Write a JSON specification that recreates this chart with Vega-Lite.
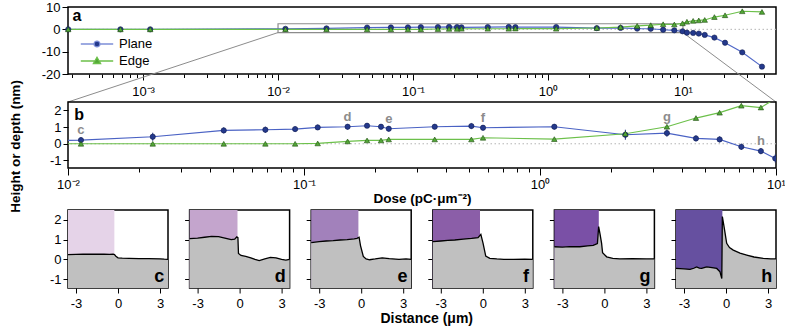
{
  "$schema": "https://vega.github.io/schema/vega-lite/v6.json",
  "padding": {"left": 7, "top": 0, "right": 10, "bottom": 0},
  "config": {
    "font": "Liberation Sans",
    "view": {"stroke": "#000000", "strokeWidth": 1.5},
    "axis": {"domain": false, "grid": false, "tickColor": "#000000", "tickWidth": 1, "labelFontSize": 13, "labelColor": "#000000", "labelFont": "Liberation Sans", "titleFont": "Liberation Sans", "titleFontSize": 13.5, "titleFontWeight": "bold", "titleColor": "#000000", "labelFlush": false, "labelOverlap": false, "labelBound": false}
  },
  "datasets": {
    "dose": [
      {"dose": 0.000279, "plane": 0, "edge": 0, "lo": 0, "hi": 0},
      {"dose": 0.00068, "plane": 0, "edge": 0, "lo": 0, "hi": 0},
      {"dose": 0.00113, "plane": 0, "edge": 0, "lo": 0, "hi": 0},
      {"dose": 0.01135, "plane": 0.22, "edge": 0, "lo": 0.04, "hi": 0.4},
      {"dose": 0.02286, "plane": 0.42, "edge": 0, "lo": 0.18, "hi": 0.66},
      {"dose": 0.0457, "plane": 0.8, "edge": 0, "lo": 0.62, "hi": 0.98},
      {"dose": 0.0686, "plane": 0.84, "edge": 0, "lo": 0.66, "hi": 1.02},
      {"dose": 0.0917, "plane": 0.88, "edge": 0, "lo": 0.72, "hi": 1.04},
      {"dose": 0.1143, "plane": 0.98, "edge": 0.02, "lo": 0.82, "hi": 1.14},
      {"dose": 0.153, "plane": 1.02, "edge": 0.14, "lo": 0.86, "hi": 1.18},
      {"dose": 0.185, "plane": 1.08, "edge": 0.2, "lo": 0.94, "hi": 1.22},
      {"dose": 0.212, "plane": 1.02, "edge": 0.2, "lo": 0.86, "hi": 1.18},
      {"dose": 0.2286, "plane": 0.9, "edge": 0.26, "lo": 0.74, "hi": 1.06},
      {"dose": 0.358, "plane": 1.02, "edge": 0.26, "lo": 0.88, "hi": 1.16},
      {"dose": 0.512, "plane": 1.06, "edge": 0.26, "lo": 0.9, "hi": 1.22},
      {"dose": 0.5735, "plane": 0.96, "edge": 0.36, "lo": 0.8, "hi": 1.12},
      {"dose": 1.15, "plane": 1.02, "edge": 0.28, "lo": 0.86, "hi": 1.18},
      {"dose": 2.3, "plane": 0.54, "edge": 0.6, "lo": 0.24, "hi": 0.84},
      {"dose": 3.45, "plane": 0.64, "edge": 1.02, "lo": 0.42, "hi": 0.86},
      {"dose": 4.58, "plane": 0.32, "edge": 1.54, "lo": 0.14, "hi": 0.5},
      {"dose": 5.77, "plane": 0.26, "edge": 1.86, "lo": 0.08, "hi": 0.44},
      {"dose": 7.13, "plane": -0.18, "edge": 2.28, "lo": -0.36, "hi": 0.0},
      {"dose": 8.63, "plane": -0.44, "edge": 2.17, "lo": -0.62, "hi": -0.26},
      {"dose": 9.93, "plane": -0.88, "edge": 2.7, "lo": -1.12, "hi": -0.64},
      {"dose": 10.7, "plane": -1.5, "edge": 3.4, "lo": -1.8, "hi": -1.2},
      {"dose": 11.9, "plane": -1.6, "edge": 3.8, "lo": -1.9, "hi": -1.3},
      {"dose": 13.1, "plane": -1.9, "edge": 4.0, "lo": -2.2, "hi": -1.6},
      {"dose": 14.5, "plane": -2.5, "edge": 4.2, "lo": -2.8, "hi": -2.2},
      {"dose": 17.1, "plane": -3.7, "edge": 5.5, "lo": -4.0, "hi": -3.4},
      {"dose": 20.5, "plane": -6.0, "edge": 6.3, "lo": -6.3, "hi": -5.7},
      {"dose": 27.5, "plane": -10.3, "edge": 8.1, "lo": -10.6, "hi": -10.0},
      {"dose": 38.5, "plane": -16.7, "edge": 7.8, "lo": -17.0, "hi": -16.4}
    ],
    "labels": [
      {"label": "c", "dose": 0.01135, "v": 0.22},
      {"label": "d", "dose": 0.153, "v": 1.02},
      {"label": "e", "dose": 0.2286, "v": 0.9},
      {"label": "f", "dose": 0.5735, "v": 0.96},
      {"label": "g", "dose": 3.45, "v": 1.02},
      {"label": "h", "dose": 8.63, "v": -0.44}
    ],
    "edges": [
      {"panel": "c", "edge": -0.26},
      {"panel": "d", "edge": -0.15},
      {"panel": "e", "edge": -0.2},
      {"panel": "f", "edge": -0.2},
      {"panel": "g", "edge": -0.4},
      {"panel": "h", "edge": -0.26}
    ],
    "profiles": [
      {"panel": "c", "x": -3.57, "v": 0.24}, {"panel": "c", "x": -3.0, "v": 0.25}, {"panel": "c", "x": -2.5, "v": 0.26}, {"panel": "c", "x": -2.0, "v": 0.27}, {"panel": "c", "x": -1.5, "v": 0.26}, {"panel": "c", "x": -1.0, "v": 0.26}, {"panel": "c", "x": -0.6, "v": 0.25}, {"panel": "c", "x": -0.35, "v": 0.26}, {"panel": "c", "x": -0.25, "v": 0.24}, {"panel": "c", "x": -0.15, "v": 0.16}, {"panel": "c", "x": 0.0, "v": 0.08}, {"panel": "c", "x": 0.3, "v": 0.06}, {"panel": "c", "x": 0.8, "v": 0.05}, {"panel": "c", "x": 1.5, "v": 0.04}, {"panel": "c", "x": 2.2, "v": 0.04}, {"panel": "c", "x": 3.0, "v": 0.03}, {"panel": "c", "x": 3.3, "v": 0.01}, {"panel": "c", "x": 3.57, "v": 0.0},
      {"panel": "d", "x": -3.57, "v": 1.05}, {"panel": "d", "x": -3.0, "v": 1.08}, {"panel": "d", "x": -2.5, "v": 1.12}, {"panel": "d", "x": -2.0, "v": 1.16}, {"panel": "d", "x": -1.5, "v": 1.15}, {"panel": "d", "x": -1.2, "v": 1.1}, {"panel": "d", "x": -0.9, "v": 1.05}, {"panel": "d", "x": -0.6, "v": 1.0}, {"panel": "d", "x": -0.35, "v": 1.02}, {"panel": "d", "x": -0.2, "v": 1.14}, {"panel": "d", "x": -0.12, "v": 1.1}, {"panel": "d", "x": -0.08, "v": 0.3}, {"panel": "d", "x": 0.1, "v": 0.2}, {"panel": "d", "x": 0.44, "v": 0.15}, {"panel": "d", "x": 0.8, "v": 0.08}, {"panel": "d", "x": 1.1, "v": 0.0}, {"panel": "d", "x": 1.4, "v": -0.06}, {"panel": "d", "x": 1.8, "v": 0.02}, {"panel": "d", "x": 2.2, "v": 0.1}, {"panel": "d", "x": 2.6, "v": 0.08}, {"panel": "d", "x": 3.0, "v": 0.0}, {"panel": "d", "x": 3.3, "v": -0.04}, {"panel": "d", "x": 3.57, "v": 0.0},
      {"panel": "e", "x": -3.57, "v": 0.85}, {"panel": "e", "x": -3.0, "v": 0.9}, {"panel": "e", "x": -2.5, "v": 0.93}, {"panel": "e", "x": -2.0, "v": 0.95}, {"panel": "e", "x": -1.5, "v": 0.98}, {"panel": "e", "x": -1.0, "v": 1.0}, {"panel": "e", "x": -0.5, "v": 1.04}, {"panel": "e", "x": -0.3, "v": 1.06}, {"panel": "e", "x": -0.15, "v": 1.12}, {"panel": "e", "x": -0.05, "v": 0.7}, {"panel": "e", "x": 0.15, "v": 0.15}, {"panel": "e", "x": 0.35, "v": 0.02}, {"panel": "e", "x": 0.6, "v": -0.02}, {"panel": "e", "x": 1.0, "v": 0.02}, {"panel": "e", "x": 1.5, "v": 0.08}, {"panel": "e", "x": 2.0, "v": 0.04}, {"panel": "e", "x": 2.7, "v": 0.0}, {"panel": "e", "x": 3.2, "v": 0.02}, {"panel": "e", "x": 3.57, "v": 0.0},
      {"panel": "f", "x": -3.57, "v": 0.9}, {"panel": "f", "x": -3.0, "v": 0.93}, {"panel": "f", "x": -2.5, "v": 0.96}, {"panel": "f", "x": -2.0, "v": 0.98}, {"panel": "f", "x": -1.4, "v": 1.02}, {"panel": "f", "x": -0.8, "v": 1.06}, {"panel": "f", "x": -0.34, "v": 1.1}, {"panel": "f", "x": -0.14, "v": 1.27}, {"panel": "f", "x": 0.02, "v": 0.81}, {"panel": "f", "x": 0.21, "v": 0.17}, {"panel": "f", "x": 0.5, "v": 0.05}, {"panel": "f", "x": 1.0, "v": 0.02}, {"panel": "f", "x": 1.5, "v": 0.0}, {"panel": "f", "x": 2.2, "v": 0.0}, {"panel": "f", "x": 3.0, "v": 0.01}, {"panel": "f", "x": 3.57, "v": 0.0},
      {"panel": "g", "x": -3.57, "v": 0.64}, {"panel": "g", "x": -3.0, "v": 0.62}, {"panel": "g", "x": -2.5, "v": 0.65}, {"panel": "g", "x": -1.75, "v": 0.64}, {"panel": "g", "x": -1.2, "v": 0.68}, {"panel": "g", "x": -0.8, "v": 0.71}, {"panel": "g", "x": -0.5, "v": 0.8}, {"panel": "g", "x": -0.41, "v": 1.66}, {"panel": "g", "x": -0.32, "v": 1.32}, {"panel": "g", "x": -0.2, "v": 0.81}, {"panel": "g", "x": -0.13, "v": 0.34}, {"panel": "g", "x": 0.16, "v": 0.13}, {"panel": "g", "x": 0.6, "v": 0.05}, {"panel": "g", "x": 1.1, "v": 0.02}, {"panel": "g", "x": 2.0, "v": 0.03}, {"panel": "g", "x": 3.0, "v": 0.02}, {"panel": "g", "x": 3.57, "v": 0.03},
      {"panel": "h", "x": -3.57, "v": -0.46}, {"panel": "h", "x": -3.0, "v": -0.48}, {"panel": "h", "x": -2.57, "v": -0.51}, {"panel": "h", "x": -2.3, "v": -0.45}, {"panel": "h", "x": -2.1, "v": -0.38}, {"panel": "h", "x": -1.9, "v": -0.44}, {"panel": "h", "x": -1.74, "v": -0.46}, {"panel": "h", "x": -1.5, "v": -0.4}, {"panel": "h", "x": -1.38, "v": -0.38}, {"panel": "h", "x": -1.0, "v": -0.42}, {"panel": "h", "x": -0.66, "v": -0.46}, {"panel": "h", "x": -0.43, "v": -0.63}, {"panel": "h", "x": -0.3, "v": -0.97}, {"panel": "h", "x": -0.26, "v": 2.17}, {"panel": "h", "x": -0.14, "v": 1.66}, {"panel": "h", "x": 0.05, "v": 0.81}, {"panel": "h", "x": 0.25, "v": 0.6}, {"panel": "h", "x": 0.52, "v": 0.47}, {"panel": "h", "x": 1.0, "v": 0.32}, {"panel": "h", "x": 1.48, "v": 0.22}, {"panel": "h", "x": 2.0, "v": 0.12}, {"panel": "h", "x": 2.66, "v": 0.05}, {"panel": "h", "x": 3.2, "v": 0.03}, {"panel": "h", "x": 3.57, "v": 0.02}
    ]
  },
  "spacing": 13,
  "bounds": "flush",
  "vconcat": [
    {
      "width": 708,
      "height": 67,
      "resolve": {"axis": {"x": "independent", "y": "independent"}},
      "layer": [
        {
          "data": {"values": [{"v": 0}]},
          "mark": {"type": "rule", "color": "#b4b4b4", "strokeDash": [1.5, 2.5], "strokeWidth": 1},
          "encoding": {"y": {"field": "v", "type": "quantitative", "scale": {"domain": [-20, 10], "nice": false, "zero": false}, "axis": {"values": [-20, -10, 0, 10], "tickSize": 6, "labelPadding": 2, "title": null, "labelExpr": "'' + datum.value"}}}
        },
        {
          "data": {"values": [{"x1": 0.01, "x2": 10, "y1": -1.45, "y2": 2.5}]},
          "mark": {"type": "rect", "fillOpacity": 0, "stroke": "#8c8c8c", "strokeWidth": 1.2},
          "encoding": {
            "x": {"field": "x1", "type": "quantitative", "scale": {"type": "log", "domain": [0.000278, 48.9], "nice": false}, "axis": null},
            "x2": {"field": "x2"},
            "y": {"field": "y1", "type": "quantitative", "scale": {"domain": [-20, 10], "nice": false, "zero": false}, "axis": null},
            "y2": {"field": "y2"}
          }
        },
        {
          "data": {"values": [{"xa": 0.01, "ya": -1.45, "xb": 0.000278, "yb": -32.54}, {"xa": 10, "ya": -1.45, "xb": 48.9, "yb": -32.54}]},
          "mark": {"type": "rule", "color": "#8c8c8c", "strokeWidth": 1, "clip": false},
          "encoding": {
            "x": {"field": "xa", "type": "quantitative", "scale": {"type": "log", "domain": [0.000278, 48.9], "nice": false}, "axis": null},
            "x2": {"field": "xb"},
            "y": {"field": "ya", "type": "quantitative", "scale": {"domain": [-20, 10], "nice": false, "zero": false}, "axis": null},
            "y2": {"field": "yb"}
          }
        },
        {
          "data": {"name": "dose"},
          "mark": {"type": "line", "color": "#5068c8", "strokeWidth": 1.2},
          "encoding": {
            "x": {"field": "dose", "type": "quantitative", "scale": {"type": "log", "domain": [0.000278, 48.9], "nice": false}, "axis": {"orient": "bottom", "values": [0.001, 0.01, 0.1, 1, 10], "tickSize": 6, "labelPadding": 5, "title": null, "labelExpr": "'10' + replace(replace(replace(replace(replace(round(log(datum.value)/LN10) + '', '-', '⁻'), '0', '⁰'), '1', '¹'), '2', '²'), '3', '³')"}},
            "y": {"field": "plane", "type": "quantitative", "scale": {"domain": [-20, 10], "nice": false, "zero": false}, "axis": null}
          }
        },
        {
          "data": {"name": "dose"},
          "mark": {"type": "line", "color": "#6cc04a", "strokeWidth": 1.2},
          "encoding": {
            "x": {"field": "dose", "type": "quantitative", "scale": {"type": "log", "domain": [0.000278, 48.9], "nice": false}, "axis": {"orient": "bottom", "values": [0.0003, 0.0004, 0.0005, 0.0006, 0.0007, 0.0008, 0.0009, 0.002, 0.003, 0.004, 0.005, 0.006, 0.007, 0.008, 0.009, 0.02, 0.03, 0.04, 0.05, 0.06, 0.07, 0.08, 0.09, 0.2, 0.3, 0.4, 0.5, 0.6, 0.7, 0.8, 0.9, 2, 3, 4, 5, 6, 7, 8, 9, 20, 30, 40], "tickSize": 3.5, "labels": false, "title": null}},
            "y": {"field": "edge", "type": "quantitative", "scale": {"domain": [-20, 10], "nice": false, "zero": false}, "axis": null}
          }
        },
        {
          "data": {"name": "dose"},
          "mark": {"type": "point", "shape": "circle", "filled": true, "opacity": 1, "size": 28, "fill": "#24398c", "stroke": "#101c50", "strokeWidth": 0.6},
          "encoding": {
            "x": {"field": "dose", "type": "quantitative", "scale": {"type": "log", "domain": [0.000278, 48.9], "nice": false}, "axis": null},
            "y": {"field": "plane", "type": "quantitative", "scale": {"domain": [-20, 10], "nice": false, "zero": false}, "axis": null}
          }
        },
        {
          "data": {"name": "dose"},
          "mark": {"type": "point", "shape": "triangle-up", "filled": true, "opacity": 1, "size": 30, "fill": "#52a836", "stroke": "#1f4a10", "strokeWidth": 0.6},
          "encoding": {
            "x": {"field": "dose", "type": "quantitative", "scale": {"type": "log", "domain": [0.000278, 48.9], "nice": false}, "axis": null},
            "y": {"field": "edge", "type": "quantitative", "scale": {"domain": [-20, 10], "nice": false, "zero": false}, "axis": null}
          }
        },
        {
          "data": {"values": []},
          "mark": {"type": "point", "filled": true, "opacity": 1, "strokeWidth": 1.3},
          "encoding": {
            "shape": {"field": "series", "type": "nominal", "scale": {"domain": ["Plane", "Edge"], "range": ["M-1.8,0L-0.36,0M0.36,0L1.8,0M0.33,0A0.33,0.33,0,1,1,-0.33,0A0.33,0.33,0,1,1,0.33,0Z", "M-1.8,0L-0.26,0M0.26,0L1.8,0M0,-0.42L0.4,0.28L-0.4,0.28Z"]}, "legend": {"orient": "none", "legendX": 19, "legendY": 27, "title": null, "symbolSize": 324, "labelOffset": 12, "rowPadding": 0, "padding": 0, "labelFontSize": 13, "labelColor": "#000000", "symbolStrokeWidth": 1.3}},
            "fill": {"field": "series", "type": "nominal", "scale": {"domain": ["Plane", "Edge"], "range": ["#24398c", "#52a836"]}, "legend": {"orient": "none", "legendX": 19, "legendY": 27, "title": null, "symbolSize": 324, "labelOffset": 12, "rowPadding": 0, "padding": 0, "labelFontSize": 13, "labelColor": "#000000", "symbolStrokeWidth": 1.3}},
            "stroke": {"field": "series", "type": "nominal", "scale": {"domain": ["Plane", "Edge"], "range": ["#7d8fd8", "#6cc04a"]}, "legend": {"orient": "none", "legendX": 19, "legendY": 27, "title": null, "symbolSize": 324, "labelOffset": 12, "rowPadding": 0, "padding": 0, "labelFontSize": 13, "labelColor": "#000000", "symbolStrokeWidth": 1.3}}
          }
        },
        {
          "data": {"values": [{"panel": "a"}]},
          "mark": {"type": "text", "fontSize": 16, "fontWeight": "bold", "align": "left", "baseline": "alphabetic", "color": "#000000"},
          "encoding": {
            "x": {"datum": 0.0003, "type": "quantitative", "scale": {"type": "log", "domain": [0.000278, 48.9], "nice": false}, "axis": null},
            "y": {"datum": 3.6, "type": "quantitative", "scale": {"domain": [-20, 10], "nice": false, "zero": false}, "axis": null},
            "text": {"field": "panel"}
          }
        }
      ]
    },
    {
      "width": 708, "height": 2, "view": {"stroke": null},
      "data": {"values": []},
      "mark": "point",
      "encoding": {}
    },
    {
      "width": 708,
      "height": 66,
      "resolve": {"axis": {"x": "independent", "y": "independent"}},
      "layer": [
        {
          "data": {"values": [{"v": 0}]},
          "mark": {"type": "rule", "color": "#b4b4b4", "strokeDash": [1.5, 2.5], "strokeWidth": 1},
          "encoding": {"y": {"field": "v", "type": "quantitative", "scale": {"domain": [-1.45, 2.5], "nice": false, "zero": false}, "axis": {"values": [-1, 0, 1, 2], "tickSize": 5, "labelPadding": 2, "title": "Height or depth (nm)", "titlePadding": 27, "titleY": 44, "labelExpr": "'' + datum.value"}}}
        },
        {
          "data": {"name": "dose"},
          "mark": {"type": "line", "color": "#4a62c4", "strokeWidth": 1.2, "clip": true},
          "encoding": {
            "x": {"field": "dose", "type": "quantitative", "scale": {"type": "log", "domain": [0.01, 10], "nice": false}, "axis": {"orient": "bottom", "values": [0.01, 0.1, 1, 10], "tickSize": 7, "labelPadding": 3, "title": "Dose (pC·μm⁻²)", "titlePadding": 0, "labelExpr": "'10' + replace(replace(replace(replace(replace(round(log(datum.value)/LN10) + '', '-', '⁻'), '0', '⁰'), '1', '¹'), '2', '²'), '3', '³')"}},
            "y": {"field": "plane", "type": "quantitative", "scale": {"domain": [-1.45, 2.5], "nice": false, "zero": false}, "axis": null}
          }
        },
        {
          "data": {"name": "dose"},
          "mark": {"type": "line", "color": "#6cc04a", "strokeWidth": 1.2, "clip": true},
          "encoding": {
            "x": {"field": "dose", "type": "quantitative", "scale": {"type": "log", "domain": [0.01, 10], "nice": false}, "axis": {"orient": "bottom", "values": [0.02, 0.03, 0.04, 0.05, 0.06, 0.07, 0.08, 0.09, 0.2, 0.3, 0.4, 0.5, 0.6, 0.7, 0.8, 0.9, 2, 3, 4, 5, 6, 7, 8, 9], "tickSize": 4, "labels": false, "title": null}},
            "y": {"field": "edge", "type": "quantitative", "scale": {"domain": [-1.45, 2.5], "nice": false, "zero": false}, "axis": null}
          }
        },
        {
          "data": {"name": "dose"},
          "mark": {"type": "rule", "color": "#1e2f80", "strokeWidth": 1, "clip": true},
          "encoding": {
            "x": {"field": "dose", "type": "quantitative", "scale": {"type": "log", "domain": [0.01, 10], "nice": false}, "axis": null},
            "y": {"field": "lo", "type": "quantitative", "scale": {"domain": [-1.45, 2.5], "nice": false, "zero": false}, "axis": null},
            "y2": {"field": "hi"}
          }
        },
        {
          "data": {"name": "dose"},
          "mark": {"type": "point", "shape": "circle", "filled": true, "opacity": 1, "size": 28, "fill": "#24398c", "stroke": "#101c50", "strokeWidth": 0.6, "clip": true},
          "encoding": {
            "x": {"field": "dose", "type": "quantitative", "scale": {"type": "log", "domain": [0.01, 10], "nice": false}, "axis": null},
            "y": {"field": "plane", "type": "quantitative", "scale": {"domain": [-1.45, 2.5], "nice": false, "zero": false}, "axis": null}
          }
        },
        {
          "data": {"name": "dose"},
          "mark": {"type": "point", "shape": "triangle-up", "filled": true, "opacity": 1, "size": 30, "fill": "#52a836", "stroke": "#1f4a10", "strokeWidth": 0.6, "clip": true},
          "encoding": {
            "x": {"field": "dose", "type": "quantitative", "scale": {"type": "log", "domain": [0.01, 10], "nice": false}, "axis": null},
            "y": {"field": "edge", "type": "quantitative", "scale": {"domain": [-1.45, 2.5], "nice": false, "zero": false}, "axis": null}
          }
        },
        {
          "data": {"name": "labels"},
          "mark": {"type": "text", "fontSize": 13, "fontWeight": "bold", "color": "#8c8c8c", "dy": -10, "baseline": "middle"},
          "encoding": {
            "x": {"field": "dose", "type": "quantitative", "scale": {"type": "log", "domain": [0.01, 10], "nice": false}, "axis": null},
            "y": {"field": "v", "type": "quantitative", "scale": {"domain": [-1.45, 2.5], "nice": false, "zero": false}, "axis": null},
            "text": {"field": "label"}
          }
        },
        {
          "data": {"values": [{"panel": "b"}]},
          "mark": {"type": "text", "fontSize": 16, "fontWeight": "bold", "align": "left", "baseline": "alphabetic", "color": "#000000"},
          "encoding": {
            "x": {"datum": 0.01063, "type": "quantitative", "scale": {"type": "log", "domain": [0.01, 10], "nice": false}, "axis": null},
            "y": {"datum": 1.45, "type": "quantitative", "scale": {"domain": [-1.45, 2.5], "nice": false, "zero": false}, "axis": null},
            "text": {"field": "panel"}
          }
        }
      ]
    },
    {
      "width": 708, "height": 16, "view": {"stroke": null},
      "data": {"values": []},
      "mark": "point",
      "encoding": {}
    },
    {
      "spacing": 21.6,
      "bounds": "flush",
      "hconcat": [
        {
          "width": 100, "height": 78,
          "resolve": {"axis": {"x": "independent", "y": "independent"}},
          "layer": [
            {"data": {"name": "edges"}, "transform": [{"filter": "datum.panel == 'c'"}], "mark": {"type": "rect", "color": "#e5d3e8"}, "encoding": {"x": {"field": "edge", "type": "quantitative", "scale": {"domain": [-3.57, 3.57], "nice": false, "zero": false}, "axis": null}, "x2": {"datum": -3.57}}},
            {"data": {"name": "profiles"}, "transform": [{"filter": "datum.panel == 'c'"}], "mark": {"type": "area", "color": "#c0c0c0", "opacity": 1}, "encoding": {"x": {"field": "x", "type": "quantitative", "scale": {"domain": [-3.57, 3.57], "nice": false, "zero": false}, "axis": {"values": [-3, 0, 3], "tickSize": 5, "labelPadding": 4, "title": null, "labelExpr": "'' + datum.value"}}, "y": {"field": "v", "type": "quantitative", "scale": {"domain": [-1.45, 2.5], "nice": false, "zero": false}, "axis": {"values": [-1, 0, 1, 2], "tickSize": 5, "labelPadding": 2, "title": null, "labelExpr": "'' + datum.value"}}, "y2": {"datum": -1.45}}},
            {"data": {"name": "profiles"}, "transform": [{"filter": "datum.panel == 'c'"}], "mark": {"type": "line", "color": "#000000", "strokeWidth": 1.3}, "encoding": {"x": {"field": "x", "type": "quantitative", "scale": {"domain": [-3.57, 3.57], "nice": false, "zero": false}, "axis": null}, "y": {"field": "v", "type": "quantitative", "scale": {"domain": [-1.45, 2.5], "nice": false, "zero": false}, "axis": null}}},
            {"data": {"name": "edges"}, "transform": [{"filter": "datum.panel == 'c'"}], "mark": {"type": "text", "fontSize": 18, "fontWeight": "bold", "align": "right", "baseline": "alphabetic", "color": "#000000"}, "encoding": {"x": {"datum": 3.3, "type": "quantitative", "scale": {"domain": [-3.57, 3.57], "nice": false, "zero": false}, "axis": null}, "y": {"datum": -1.14, "type": "quantitative", "scale": {"domain": [-1.45, 2.5], "nice": false, "zero": false}, "axis": null}, "text": {"field": "panel"}}}
          ]
        },
        {
          "width": 100, "height": 78,
          "resolve": {"axis": {"x": "independent", "y": "independent"}},
          "layer": [
            {"data": {"name": "edges"}, "transform": [{"filter": "datum.panel == 'd'"}], "mark": {"type": "rect", "color": "#c4a5cd"}, "encoding": {"x": {"field": "edge", "type": "quantitative", "scale": {"domain": [-3.57, 3.57], "nice": false, "zero": false}, "axis": null}, "x2": {"datum": -3.57}}},
            {"data": {"name": "profiles"}, "transform": [{"filter": "datum.panel == 'd'"}], "mark": {"type": "area", "color": "#c0c0c0", "opacity": 1}, "encoding": {"x": {"field": "x", "type": "quantitative", "scale": {"domain": [-3.57, 3.57], "nice": false, "zero": false}, "axis": {"values": [-3, 0, 3], "tickSize": 5, "labelPadding": 4, "title": null, "labelExpr": "'' + datum.value"}}, "y": {"field": "v", "type": "quantitative", "scale": {"domain": [-1.45, 2.5], "nice": false, "zero": false}, "axis": {"values": [-1, 0, 1, 2], "tickSize": 5, "labels": false, "title": null}}, "y2": {"datum": -1.45}}},
            {"data": {"name": "profiles"}, "transform": [{"filter": "datum.panel == 'd'"}], "mark": {"type": "line", "color": "#000000", "strokeWidth": 1.3}, "encoding": {"x": {"field": "x", "type": "quantitative", "scale": {"domain": [-3.57, 3.57], "nice": false, "zero": false}, "axis": null}, "y": {"field": "v", "type": "quantitative", "scale": {"domain": [-1.45, 2.5], "nice": false, "zero": false}, "axis": null}}},
            {"data": {"name": "edges"}, "transform": [{"filter": "datum.panel == 'd'"}], "mark": {"type": "text", "fontSize": 18, "fontWeight": "bold", "align": "right", "baseline": "alphabetic", "color": "#000000"}, "encoding": {"x": {"datum": 3.3, "type": "quantitative", "scale": {"domain": [-3.57, 3.57], "nice": false, "zero": false}, "axis": null}, "y": {"datum": -1.14, "type": "quantitative", "scale": {"domain": [-1.45, 2.5], "nice": false, "zero": false}, "axis": null}, "text": {"field": "panel"}}}
          ]
        },
        {
          "width": 100, "height": 78,
          "resolve": {"axis": {"x": "independent", "y": "independent"}},
          "layer": [
            {"data": {"name": "edges"}, "transform": [{"filter": "datum.panel == 'e'"}], "mark": {"type": "rect", "color": "#a281bb"}, "encoding": {"x": {"field": "edge", "type": "quantitative", "scale": {"domain": [-3.57, 3.57], "nice": false, "zero": false}, "axis": null}, "x2": {"datum": -3.57}}},
            {"data": {"name": "profiles"}, "transform": [{"filter": "datum.panel == 'e'"}], "mark": {"type": "area", "color": "#c0c0c0", "opacity": 1}, "encoding": {"x": {"field": "x", "type": "quantitative", "scale": {"domain": [-3.57, 3.57], "nice": false, "zero": false}, "axis": {"values": [-3, 0, 3], "tickSize": 5, "labelPadding": 4, "title": "Distance (μm)", "titleX": 115, "titlePadding": 1, "titleFontSize": 14, "labelExpr": "'' + datum.value"}}, "y": {"field": "v", "type": "quantitative", "scale": {"domain": [-1.45, 2.5], "nice": false, "zero": false}, "axis": {"values": [-1, 0, 1, 2], "tickSize": 5, "labels": false, "title": null}}, "y2": {"datum": -1.45}}},
            {"data": {"name": "profiles"}, "transform": [{"filter": "datum.panel == 'e'"}], "mark": {"type": "line", "color": "#000000", "strokeWidth": 1.3}, "encoding": {"x": {"field": "x", "type": "quantitative", "scale": {"domain": [-3.57, 3.57], "nice": false, "zero": false}, "axis": null}, "y": {"field": "v", "type": "quantitative", "scale": {"domain": [-1.45, 2.5], "nice": false, "zero": false}, "axis": null}}},
            {"data": {"name": "edges"}, "transform": [{"filter": "datum.panel == 'e'"}], "mark": {"type": "text", "fontSize": 18, "fontWeight": "bold", "align": "right", "baseline": "alphabetic", "color": "#000000"}, "encoding": {"x": {"datum": 3.3, "type": "quantitative", "scale": {"domain": [-3.57, 3.57], "nice": false, "zero": false}, "axis": null}, "y": {"datum": -1.14, "type": "quantitative", "scale": {"domain": [-1.45, 2.5], "nice": false, "zero": false}, "axis": null}, "text": {"field": "panel"}}}
          ]
        },
        {
          "width": 100, "height": 78,
          "resolve": {"axis": {"x": "independent", "y": "independent"}},
          "layer": [
            {"data": {"name": "edges"}, "transform": [{"filter": "datum.panel == 'f'"}], "mark": {"type": "rect", "color": "#8b5ea8"}, "encoding": {"x": {"field": "edge", "type": "quantitative", "scale": {"domain": [-3.57, 3.57], "nice": false, "zero": false}, "axis": null}, "x2": {"datum": -3.57}}},
            {"data": {"name": "profiles"}, "transform": [{"filter": "datum.panel == 'f'"}], "mark": {"type": "area", "color": "#c0c0c0", "opacity": 1}, "encoding": {"x": {"field": "x", "type": "quantitative", "scale": {"domain": [-3.57, 3.57], "nice": false, "zero": false}, "axis": {"values": [-3, 0, 3], "tickSize": 5, "labelPadding": 4, "title": null, "labelExpr": "'' + datum.value"}}, "y": {"field": "v", "type": "quantitative", "scale": {"domain": [-1.45, 2.5], "nice": false, "zero": false}, "axis": {"values": [-1, 0, 1, 2], "tickSize": 5, "labels": false, "title": null}}, "y2": {"datum": -1.45}}},
            {"data": {"name": "profiles"}, "transform": [{"filter": "datum.panel == 'f'"}], "mark": {"type": "line", "color": "#000000", "strokeWidth": 1.3}, "encoding": {"x": {"field": "x", "type": "quantitative", "scale": {"domain": [-3.57, 3.57], "nice": false, "zero": false}, "axis": null}, "y": {"field": "v", "type": "quantitative", "scale": {"domain": [-1.45, 2.5], "nice": false, "zero": false}, "axis": null}}},
            {"data": {"name": "edges"}, "transform": [{"filter": "datum.panel == 'f'"}], "mark": {"type": "text", "fontSize": 18, "fontWeight": "bold", "align": "right", "baseline": "alphabetic", "color": "#000000"}, "encoding": {"x": {"datum": 3.3, "type": "quantitative", "scale": {"domain": [-3.57, 3.57], "nice": false, "zero": false}, "axis": null}, "y": {"datum": -1.14, "type": "quantitative", "scale": {"domain": [-1.45, 2.5], "nice": false, "zero": false}, "axis": null}, "text": {"field": "panel"}}}
          ]
        },
        {
          "width": 100, "height": 78,
          "resolve": {"axis": {"x": "independent", "y": "independent"}},
          "layer": [
            {"data": {"name": "edges"}, "transform": [{"filter": "datum.panel == 'g'"}], "mark": {"type": "rect", "color": "#7a50a6"}, "encoding": {"x": {"field": "edge", "type": "quantitative", "scale": {"domain": [-3.57, 3.57], "nice": false, "zero": false}, "axis": null}, "x2": {"datum": -3.57}}},
            {"data": {"name": "profiles"}, "transform": [{"filter": "datum.panel == 'g'"}], "mark": {"type": "area", "color": "#c0c0c0", "opacity": 1}, "encoding": {"x": {"field": "x", "type": "quantitative", "scale": {"domain": [-3.57, 3.57], "nice": false, "zero": false}, "axis": {"values": [-3, 0, 3], "tickSize": 5, "labelPadding": 4, "title": null, "labelExpr": "'' + datum.value"}}, "y": {"field": "v", "type": "quantitative", "scale": {"domain": [-1.45, 2.5], "nice": false, "zero": false}, "axis": {"values": [-1, 0, 1, 2], "tickSize": 5, "labels": false, "title": null}}, "y2": {"datum": -1.45}}},
            {"data": {"name": "profiles"}, "transform": [{"filter": "datum.panel == 'g'"}], "mark": {"type": "line", "color": "#000000", "strokeWidth": 1.3}, "encoding": {"x": {"field": "x", "type": "quantitative", "scale": {"domain": [-3.57, 3.57], "nice": false, "zero": false}, "axis": null}, "y": {"field": "v", "type": "quantitative", "scale": {"domain": [-1.45, 2.5], "nice": false, "zero": false}, "axis": null}}},
            {"data": {"name": "edges"}, "transform": [{"filter": "datum.panel == 'g'"}], "mark": {"type": "text", "fontSize": 18, "fontWeight": "bold", "align": "right", "baseline": "alphabetic", "color": "#000000"}, "encoding": {"x": {"datum": 3.3, "type": "quantitative", "scale": {"domain": [-3.57, 3.57], "nice": false, "zero": false}, "axis": null}, "y": {"datum": -1.14, "type": "quantitative", "scale": {"domain": [-1.45, 2.5], "nice": false, "zero": false}, "axis": null}, "text": {"field": "panel"}}}
          ]
        },
        {
          "width": 100, "height": 78,
          "resolve": {"axis": {"x": "independent", "y": "independent"}},
          "layer": [
            {"data": {"name": "edges"}, "transform": [{"filter": "datum.panel == 'h'"}], "mark": {"type": "rect", "color": "#6650a0"}, "encoding": {"x": {"field": "edge", "type": "quantitative", "scale": {"domain": [-3.57, 3.57], "nice": false, "zero": false}, "axis": null}, "x2": {"datum": -3.57}}},
            {"data": {"name": "profiles"}, "transform": [{"filter": "datum.panel == 'h'"}], "mark": {"type": "area", "color": "#c0c0c0", "opacity": 1}, "encoding": {"x": {"field": "x", "type": "quantitative", "scale": {"domain": [-3.57, 3.57], "nice": false, "zero": false}, "axis": {"values": [-3, 0, 3], "tickSize": 5, "labelPadding": 4, "title": null, "labelExpr": "'' + datum.value"}}, "y": {"field": "v", "type": "quantitative", "scale": {"domain": [-1.45, 2.5], "nice": false, "zero": false}, "axis": {"values": [-1, 0, 1, 2], "tickSize": 5, "labels": false, "title": null}}, "y2": {"datum": -1.45}}},
            {"data": {"name": "profiles"}, "transform": [{"filter": "datum.panel == 'h'"}], "mark": {"type": "line", "color": "#000000", "strokeWidth": 1.3}, "encoding": {"x": {"field": "x", "type": "quantitative", "scale": {"domain": [-3.57, 3.57], "nice": false, "zero": false}, "axis": null}, "y": {"field": "v", "type": "quantitative", "scale": {"domain": [-1.45, 2.5], "nice": false, "zero": false}, "axis": null}}},
            {"data": {"name": "edges"}, "transform": [{"filter": "datum.panel == 'h'"}], "mark": {"type": "text", "fontSize": 18, "fontWeight": "bold", "align": "right", "baseline": "alphabetic", "color": "#000000"}, "encoding": {"x": {"datum": 3.3, "type": "quantitative", "scale": {"domain": [-3.57, 3.57], "nice": false, "zero": false}, "axis": null}, "y": {"datum": -1.14, "type": "quantitative", "scale": {"domain": [-1.45, 2.5], "nice": false, "zero": false}, "axis": null}, "text": {"field": "panel"}}}
          ]
        }
      ]
    }
  ]
}
